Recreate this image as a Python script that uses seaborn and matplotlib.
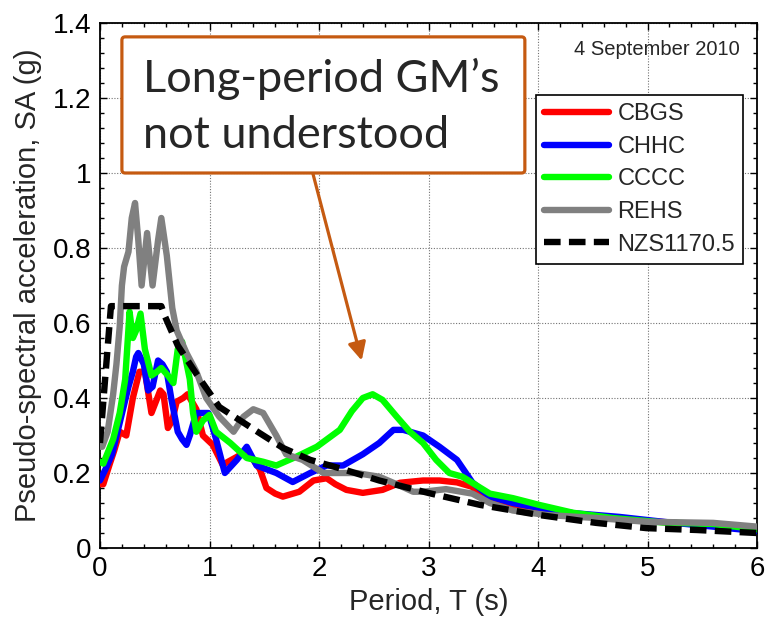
import matplotlib
matplotlib.use("Agg")
import matplotlib.pyplot as plt
import seaborn as sns
from matplotlib.patches import FancyBboxPatch
from matplotlib.ticker import MultipleLocator, FuncFormatter

# Pseudo-spectral acceleration records, 4 September 2010 (period in s, SA in g)
t_cbgs = [0, 0.03, 0.09, 0.13, 0.18, 0.24, 0.30, 0.36, 0.41, 0.47, 0.51, 0.55, 0.58, 0.62, 0.66,
          0.70, 0.76, 0.80, 0.88, 0.94, 1.03, 1.12, 1.25, 1.34, 1.46, 1.52, 1.60, 1.67, 1.82, 1.95,
          2.07, 2.15, 2.25, 2.40, 2.58, 2.74, 2.95, 3.10, 3.26, 3.40, 3.47, 3.60, 3.77, 4.00, 4.30,
          4.70, 5.10, 5.60, 6.00]
sa_cbgs = [0.17, 0.17, 0.225, 0.26, 0.31, 0.30, 0.40, 0.47, 0.47, 0.36, 0.39, 0.42, 0.41, 0.32, 0.34,
           0.39, 0.40, 0.41, 0.37, 0.30, 0.275, 0.222, 0.243, 0.26, 0.21, 0.16, 0.145, 0.137, 0.15, 0.18,
           0.186, 0.17, 0.155, 0.147, 0.155, 0.174, 0.18, 0.18, 0.175, 0.163, 0.14, 0.125, 0.113, 0.103, 0.092,
           0.08, 0.07, 0.06, 0.05]

t_chhc = [0, 0.05, 0.11, 0.16, 0.21, 0.26, 0.30, 0.33, 0.35, 0.40, 0.44, 0.48, 0.53, 0.57, 0.61,
          0.65, 0.71, 0.75, 0.79, 0.82, 0.88, 0.93, 0.99, 1.06, 1.14, 1.25, 1.34, 1.43, 1.52, 1.61,
          1.76, 1.92, 2.07, 2.22, 2.40, 2.55, 2.68, 2.77, 2.95, 3.10, 3.26, 3.40, 3.56, 3.77, 4.01,
          4.32, 4.74, 5.14, 5.60, 6.00]
sa_chhc = [0.18, 0.21, 0.25, 0.31, 0.37, 0.43, 0.47, 0.51, 0.52, 0.49, 0.42, 0.43, 0.50, 0.49, 0.47,
           0.40, 0.31, 0.29, 0.275, 0.30, 0.36, 0.36, 0.36, 0.29, 0.20, 0.235, 0.27, 0.22, 0.21, 0.20,
           0.176, 0.20, 0.22, 0.22, 0.25, 0.28, 0.315, 0.315, 0.30, 0.27, 0.235, 0.175, 0.137, 0.12, 0.107,
           0.093, 0.083, 0.07, 0.057, 0.045]

t_cccc = [0, 0.03, 0.12, 0.18, 0.23, 0.27, 0.30, 0.33, 0.37, 0.41, 0.47, 0.52, 0.56, 0.62, 0.67,
          0.71, 0.75, 0.82, 0.85, 0.88, 0.94, 1.00, 1.06, 1.19, 1.34, 1.49, 1.61, 1.79, 1.98, 2.19,
          2.30, 2.40, 2.49, 2.58, 2.71, 2.83, 2.95, 3.07, 3.19, 3.31, 3.56, 3.77, 4.01, 4.32, 4.68,
          5.14, 5.60, 6.00]
sa_cccc = [0.23, 0.225, 0.29, 0.36, 0.45, 0.63, 0.56, 0.58, 0.625, 0.53, 0.46, 0.47, 0.48, 0.46, 0.44,
           0.53, 0.55, 0.45, 0.36, 0.31, 0.34, 0.355, 0.31, 0.28, 0.24, 0.23, 0.22, 0.243, 0.27, 0.315,
           0.365, 0.40, 0.41, 0.395, 0.35, 0.31, 0.28, 0.235, 0.20, 0.19, 0.145, 0.133, 0.115, 0.094, 0.08,
           0.068, 0.064, 0.05]

t_rehs = [0, 0.02, 0.07, 0.12, 0.15, 0.18, 0.20, 0.22, 0.26, 0.29, 0.32, 0.35, 0.38, 0.43, 0.48,
          0.53, 0.56, 0.61, 0.66, 0.70, 0.79, 0.88, 0.97, 1.09, 1.22, 1.31, 1.40, 1.49, 1.61, 1.70,
          1.85, 2.04, 2.34, 2.55, 2.71, 2.86, 2.95, 3.16, 3.40, 3.56, 3.77, 4.08, 4.53, 4.99, 5.60, 6.00]
sa_rehs = [0.27, 0.27, 0.31, 0.41, 0.49, 0.59, 0.70, 0.75, 0.79, 0.88, 0.92, 0.82, 0.70, 0.84, 0.70,
           0.82, 0.88, 0.78, 0.64, 0.58, 0.52, 0.47, 0.40, 0.35, 0.31, 0.35, 0.37, 0.36, 0.30, 0.25,
           0.235, 0.20, 0.20, 0.19, 0.17, 0.15, 0.15, 0.157, 0.145, 0.12, 0.10, 0.088, 0.08, 0.07, 0.067, 0.057]

# Design spectrum
t_nzs = [0, 0.10, 0.56, 0.59, 0.71, 0.89, 1.09, 1.28, 1.46, 1.67, 1.92, 2.22, 2.55, 3.01, 3.47,
         4.01, 4.53, 4.99, 5.45, 6.00]
sa_nzs = [0.28, 0.645, 0.645, 0.62, 0.54, 0.46, 0.376, 0.34, 0.306, 0.267, 0.235, 0.21, 0.18, 0.146, 0.115,
          0.088, 0.067, 0.053, 0.048, 0.04]

records = [
    ("CBGS", t_cbgs, sa_cbgs, "#FF0000"),
    ("CHHC", t_chhc, sa_chhc, "#0000FF"),
    ("CCCC", t_cccc, sa_cccc, "#00FF00"),
    ("REHS", t_rehs, sa_rehs, "#808080"),
]

x_ticks = [0, 1, 2, 3, 4, 5, 6]
y_ticks = [0, 0.2, 0.4, 0.6, 0.8, 1.0, 1.2, 1.4]

sns.set_theme(style="ticks")
plt.rcParams["font.family"] = ["Liberation Sans", "DejaVu Sans"]

W, H = 766, 622
fig = plt.figure(figsize=(W / 100, H / 100), dpi=100)
ax = fig.add_axes([100 / W, 1 - 548 / H, 657 / W, 525 / H])

for name, t, sa, col in records:
    sns.lineplot(x=t, y=sa, ax=ax, color=col, lw=4.6, label=name, sort=False,
                 errorbar=None, solid_joinstyle="round", solid_capstyle="round", zorder=3)
sns.lineplot(x=t_nzs, y=sa_nzs, ax=ax, color="black", lw=4.6, label="NZS1170.5", sort=False,
             errorbar=None, linestyle=(0, (2.6, 1.3)), zorder=4)

ax.set_xlim(0, 6)
ax.set_ylim(0, 1.4)
ax.set_xticks(x_ticks)
ax.set_yticks(y_ticks)
ax.xaxis.set_minor_locator(MultipleLocator(0.2))
ax.yaxis.set_minor_locator(MultipleLocator(0.04))
fmt = FuncFormatter(lambda v, p: f"{v:g}")
ax.xaxis.set_major_formatter(fmt)
ax.yaxis.set_major_formatter(fmt)
ax.tick_params(which="both", direction="in", top=True, right=True, colors="black",
               labelsize=20, width=1.0)
ax.tick_params(which="major", length=5, pad=6)
ax.tick_params(which="minor", length=3)
ax.grid(True, which="major", color="0.45", linestyle=(0, (1, 1.5)), lw=0.8)
for s in ax.spines.values():
    s.set_color("black")
    s.set_linewidth(1.3)

ax.set_xlabel("Period, T (s)", fontsize=21, labelpad=4)
ax.set_ylabel("Pseudo-spectral acceleration, SA (g)", fontsize=21, labelpad=8)

leg = ax.legend(loc="upper right", bbox_to_anchor=(0.979, 0.863), fontsize=17,
                frameon=True, fancybox=False, edgecolor="black", framealpha=1,
                handlelength=2.75, handletextpad=0.35, labelspacing=0.45,
                borderpad=0.35, borderaxespad=0)
leg.get_frame().set_linewidth(1.2)
leg.set_zorder(10)

ax.text(0.848, 0.949, "4 September 2010", transform=ax.transAxes, fontsize=14.5,
        ha="center", va="center", zorder=6)

# Callout box with arrow toward the long-period bump
orange = "#C55A11"
box = FancyBboxPatch((0.2, 1.0), 3.68, 0.363,
                     boxstyle="round,pad=0,rounding_size=0.03", mutation_aspect=0.292,
                     facecolor="white", edgecolor=orange, lw=2.3, zorder=7,
                     transform=ax.transData, clip_on=False)
ax.add_patch(box)
ax.text(0.39, 1.216, "Long-period GM\u2019s", fontsize=32.5, family=["Lato", "DejaVu Sans"],
        ha="left", va="baseline", zorder=8)
ax.text(0.39, 1.067, "not understood", fontsize=32.5, family=["Lato", "DejaVu Sans"],
        ha="left", va="baseline", zorder=8)
ax.annotate("", xy=(2.39, 0.50), xytext=(1.943, 1.0),
            arrowprops=dict(arrowstyle="-|>,head_length=0.9,head_width=0.45",
                            color=orange, lw=2.3, shrinkA=0, shrinkB=0), zorder=6)

fig.savefig("out.png", dpi=100)
